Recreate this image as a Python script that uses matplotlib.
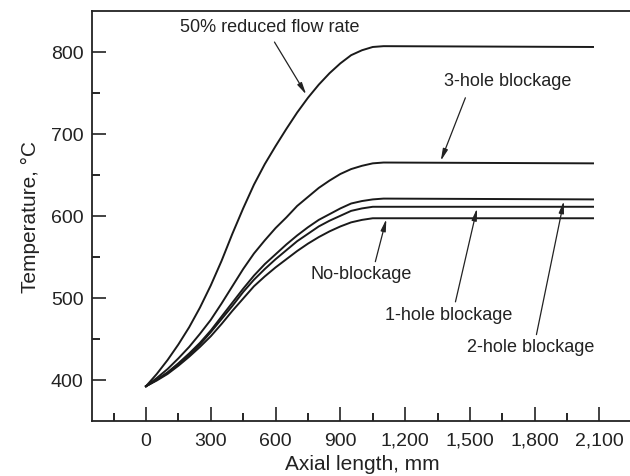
import matplotlib
matplotlib.use('Agg')
import matplotlib.pyplot as plt

plt.rcParams['font.family'] = ['Liberation Sans', 'DejaVu Sans']

# axial position (mm) and coolant temperature (C) per case
axial = [0, 50, 100, 150, 200, 250, 300, 350, 400, 450, 500, 550, 600, 650,
         700, 750, 800, 850, 900, 950, 1000, 1050, 1100, 2070]
t_reduced_flow = [392, 407, 424, 443, 464, 488, 515, 545, 578, 609, 638, 663,
                  685, 706, 726, 744, 760, 774, 786, 796, 802, 806, 807, 806]
t_3hole = [392, 402, 413, 426, 440, 456, 473, 493, 514, 535, 554, 570,
           585, 598, 612, 623, 634, 643, 651, 657, 661, 664, 665, 664]
t_2hole = [392, 400, 409, 420, 432, 445, 460, 477, 494, 511, 527, 541,
           553, 565, 576, 586, 595, 602, 609, 615, 618, 620, 621, 620]
t_1hole = [392, 400, 408, 419, 430, 443, 458, 474, 490, 507, 522, 535,
           547, 558, 569, 578, 587, 594, 600, 606, 609, 611, 611, 611]
t_noblock = [392, 399, 407, 417, 428, 440, 453, 468, 484, 499, 514, 526,
             537, 547, 557, 566, 574, 581, 587, 592, 595, 597, 597, 597]

xticks = [0, 300, 600, 900, 1200, 1500, 1800, 2100]
xticklabels = ['0', '300', '600', '900', '1,200', '1,500', '1,800', '2,100']
yticks = [400, 500, 600, 700, 800]

# (label, text position, arrow tip, arrow tail)
notes = [
    ('50% reduced flow rate', (575, 831), (742, 748), (595, 812)),
    ('3-hole blockage', (1673, 765), (1365, 667), (1479, 744)),
    ('No-blockage', (996, 530), (1113, 596), (1062, 544)),
    ('1-hole blockage', (1404, 479), (1533, 609), (1433, 495)),
    ('2-hole blockage', (1780, 441), (1935, 618), (1808, 455)),
]

fig = plt.figure(figsize=(6.3, 4.77), dpi=100)
ax = fig.add_axes([0.146, 0.116, 0.857, 0.859])

for temps in [t_reduced_flow, t_3hole, t_2hole, t_1hole, t_noblock]:
    ax.plot(axial, temps, color='#1a1a1a', lw=1.4, solid_joinstyle='round')

for text, txy, tip, tail in notes:
    ax.text(txy[0], txy[1], text, ha='center', va='center', fontsize=13,
            color='#222222')
    ax.annotate('', xy=tip, xytext=tail,
                arrowprops=dict(arrowstyle='-|>,head_length=0.7,head_width=0.15',
                                color='#222222', lw=0.9, shrinkA=0, shrinkB=0))

ax.set_xlim(-250, 2250)
ax.set_ylim(350, 850)
ax.set_xticks(xticks)
ax.set_xticklabels(xticklabels)
ax.set_xticks([-150, 150, 450, 750, 1050, 1350, 1650, 1950], minor=True)
ax.set_yticks(yticks)
ax.set_yticks([450, 550, 650, 750], minor=True)
ax.tick_params(which='major', direction='in', length=10, width=1.2,
               labelsize=14, colors='#222222')
ax.tick_params(which='minor', direction='in', length=6, width=1.2)
ax.tick_params(axis='x', pad=8)
ax.tick_params(axis='y', pad=6)

ax.spines['right'].set_visible(False)
for side in ['left', 'bottom', 'top']:
    ax.spines[side].set_linewidth(1.3)
    ax.spines[side].set_color('#222222')

ax.set_xlabel('Axial length, mm', fontsize=15, color='#222222', labelpad=4)
ax.set_ylabel('Temperature, \u00b0C', fontsize=15, color='#222222', labelpad=8)

fig.savefig('out.png', dpi=100)
